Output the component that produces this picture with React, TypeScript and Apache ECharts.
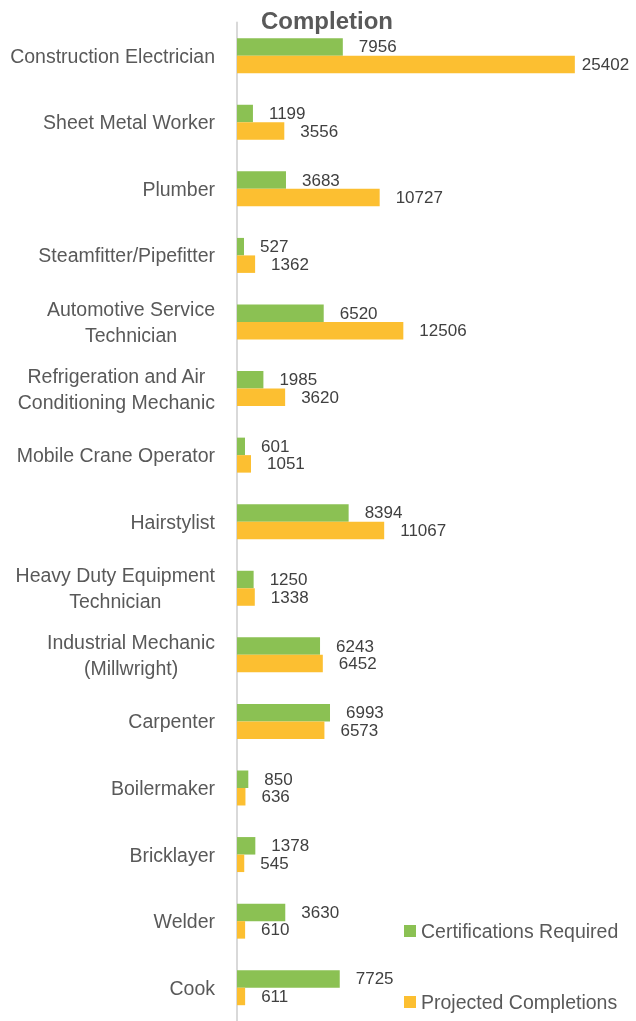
import React, { useEffect, useRef } from "react";
import * as echarts from "echarts";

const categories = [
  "Construction Electrician",
  "Sheet Metal Worker",
  "Plumber",
  "Steamfitter/Pipefitter",
  "Automotive Service\nTechnician",
  "Refrigeration and Air\nConditioning Mechanic",
  "Mobile Crane Operator",
  "Hairstylist",
  "Heavy Duty Equipment\nTechnician",
  "Industrial Mechanic\n(Millwright)",
  "Carpenter",
  "Boilermaker",
  "Bricklayer",
  "Welder",
  "Cook",
];

const certificationsRequired = [7956, 1199, 3683, 527, 6520, 1985, 601, 8394, 1250, 6243, 6993, 850, 1378, 3630, 7725];
const projectedCompletions = [25402, 3556, 10727, 1362, 12506, 3620, 1051, 11067, 1338, 6452, 6573, 636, 545, 610, 611];

const seriesNames = ["Certifications Required", "Projected Completions"];
const titleText = "Completion";

const FONT = "'Liberation Sans Narrow', 'Arial Narrow', 'Liberation Sans', Arial, sans-serif";
const GREEN = "#8BC153";
const ORANGE = "#FCBF31";

export default function App() {
  const ref = useRef<HTMLDivElement>(null);

  useEffect(() => {
    if (!ref.current) return;
    const chart = echarts.init(ref.current, undefined, { renderer: "svg" });
    const maxVal = Math.max(...projectedCompletions);
    const valueLabel = {
      show: true,
      position: "right",
      distance: 16,
      fontFamily: FONT,
      fontSize: 17,
      color: "#404040",
    };
    const legendBase = {
      orient: "vertical",
      left: 404,
      padding: 0,
      itemWidth: 12,
      itemHeight: 12,
      icon: "rect",
      textStyle: { fontFamily: FONT, fontSize: 19.5, color: "#595959" },
    };
    chart.setOption({
      animation: false,
      title: {
        text: titleText,
        left: 322,
        top: 3,
        textAlign: "center",
        textStyle: { fontFamily: FONT, fontSize: 24, fontWeight: "bold", color: "#595959" },
      },
      legend: [
        { ...legendBase, top: 921, data: [seriesNames[0]] },
        { ...legendBase, top: 992, data: [seriesNames[1]] },
      ],
      grid: { left: 237, top: 22.4, width: 400.6, height: 1008 },
      xAxis: {
        type: "value",
        min: 0,
        max: 30000,
        show: false,
      },
      yAxis: {
        type: "category",
        inverse: true,
        data: categories,
        axisLine: { show: true, lineStyle: { color: "#D9D9D9", width: 2 } },
        axisTick: { show: false },
        axisLabel: {
          margin: 22,
          fontFamily: FONT,
          fontSize: 19.5,
          color: "#595959",
          lineHeight: 26,
          formatter: (v: string) =>
            v
              .split("\n")
              .map((l) => "{c|" + l + "}")
              .join("\n"),
          rich: { c: { align: "center", fontFamily: FONT, fontSize: 19.5, color: "#595959", lineHeight: 26 } },
        },
      },
      series: [
        {
          name: seriesNames[0],
          type: "bar",
          data: certificationsRequired,
          barWidth: 17.5,
          barGap: "0%",
          itemStyle: { color: GREEN },
          label: valueLabel,
        },
        {
          name: seriesNames[1],
          type: "bar",
          data: projectedCompletions.map((v) =>
            v === maxVal ? { value: v, label: { distance: 7 } } : v
          ),
          barWidth: 17.5,
          itemStyle: { color: ORANGE },
          label: valueLabel,
        },
      ],
    });
    return () => chart.dispose();
  }, []);

  return (
    <div
      ref={ref}
      style={{ position: "fixed", left: 0, top: 0, width: 636, height: 1021 }}
    />
  );
}
